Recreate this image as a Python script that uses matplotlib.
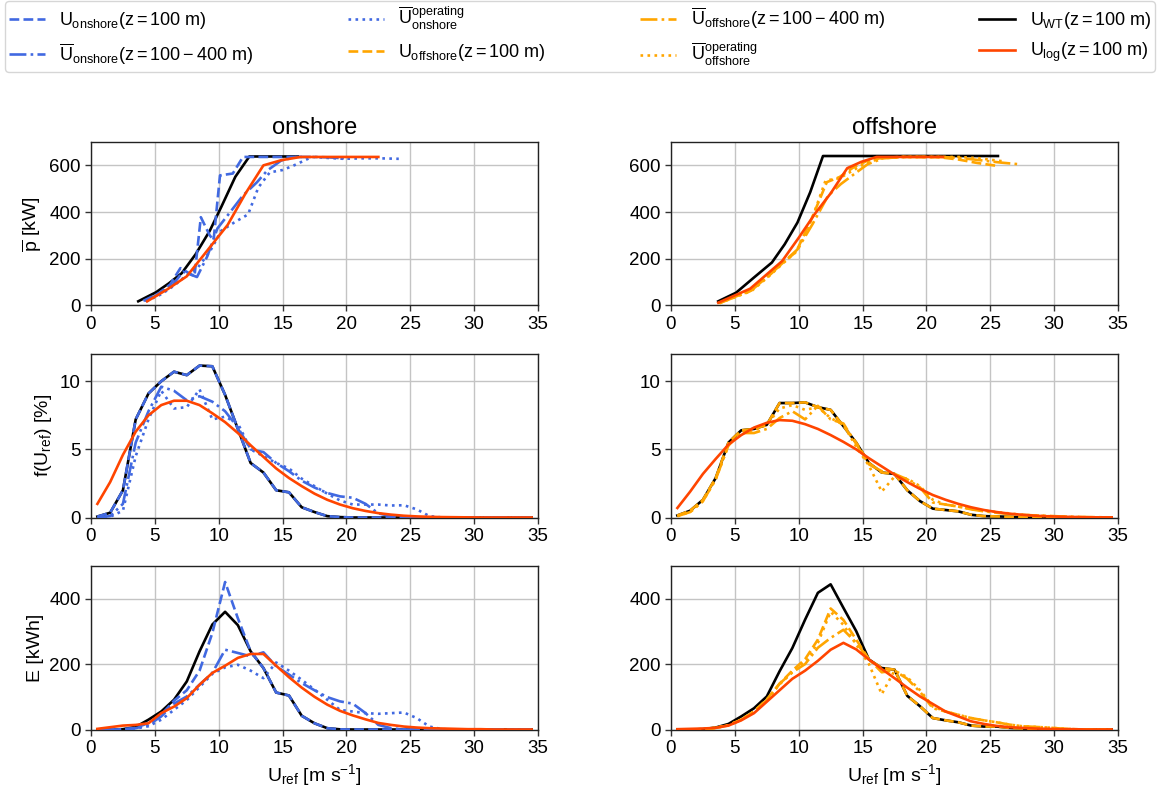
import matplotlib
matplotlib.use("Agg")
import matplotlib.pyplot as plt
from matplotlib.lines import Line2D

plt.rcParams['font.family'] = ['Liberation Sans', 'DejaVu Sans']
plt.rcParams['mathtext.fontset'] = 'custom'
plt.rcParams['mathtext.rm'] = 'Liberation Sans'
plt.rcParams['mathtext.it'] = 'Liberation Sans'
plt.rcParams['mathtext.bf'] = 'Liberation Sans:bold'
plt.rcParams['mathtext.sf'] = 'Liberation Sans'

# ---------------- data ----------------
u_bins = [0.5, 1.5, 2.5, 3.5, 4.5, 5.5, 6.5, 7.5, 8.5, 9.5, 10.5, 11.5, 12.5, 13.5,
          14.5, 15.5, 16.5, 17.5, 18.5, 19.5, 20.5, 21.5, 22.5, 23.5, 24.5, 25.5,
          26.5, 27.5, 28.5, 29.5, 30.5, 31.5, 32.5, 33.5, 34.5]

# power curves (top row) -- onshore
pw_on_wt_u = [3.7, 5.1, 6.1, 7.1, 8.2, 9.3, 10.2, 11.3, 12.4, 13.5, 14.6, 15.4, 16.2]
pw_on_wt = [18, 57, 95, 138, 220, 320, 422, 551, 638, 638, 638, 638, 638]
pw_on_100_u = [4.1, 5.3, 6.2, 7.0, 8.1, 8.6, 9.3, 9.6, 10.1, 11.1, 11.9, 13.0, 14.2, 15.4, 16.5]
pw_on_100 = [20, 52, 90, 160, 125, 378, 300, 280, 557, 565, 636, 636, 636, 636, 636]
pw_on_avg_u = [4.2, 5.4, 6.4, 7.2, 8.3, 9.1, 9.9, 10.9, 11.9, 13.0, 13.8, 14.9, 16.1, 17.5, 18.7, 19.8]
pw_on_avg = [20, 50, 88, 145, 122, 210, 330, 400, 471, 528, 578, 621, 636, 636, 634, 630]
pw_on_op_u = [4.3, 5.5, 6.5, 7.5, 8.4, 9.3, 10.2, 11.2, 12.3, 13.1, 14.0, 15.0, 15.9, 17.3,
              18.5, 19.8, 21.2, 22.7, 24.1]
pw_on_op = [18, 48, 85, 130, 165, 230, 320, 355, 390, 505, 570, 580, 600, 636, 632, 628, 630, 630, 628]
pw_on_log_u = [4.4, 6.0, 7.5, 9.1, 10.7, 12.1, 13.5, 14.9, 16.4, 18.0, 19.5, 21.0, 22.5]
pw_on_log = [18, 70, 125, 235, 345, 480, 600, 622, 636, 636, 636, 636, 636]

# power curves (top row) -- offshore
pw_off_wt_u = [3.7, 5.1, 6.5, 7.9, 8.9, 9.9, 10.9, 11.9, 13.5, 15.5, 17.5, 19.5, 21.5, 23.5, 25.6]
pw_off_wt = [18, 55, 120, 184, 262, 355, 485, 640, 640, 640, 640, 640, 640, 640, 640]
pw_off_100_u = [3.7, 4.9, 6.2, 7.5, 8.7, 9.8, 11.0, 12.2, 13.2, 14.3, 15.3, 16.5, 18.0, 19.5,
                21.0, 22.5, 24.0, 25.5]
pw_off_100 = [10, 35, 62, 120, 180, 230, 370, 528, 550, 592, 618, 632, 636, 636, 635, 625, 610, 598]
pw_off_avg_u = [3.8, 5.0, 6.3, 7.6, 8.8, 9.9, 11.1, 12.3, 13.3, 14.4, 15.4, 16.6, 18.1, 19.6,
                21.1, 22.6, 24.2, 25.8, 27.4]
pw_off_avg = [10, 36, 65, 125, 185, 240, 350, 470, 520, 565, 605, 630, 636, 636, 636, 632, 622, 612, 604]
pw_off_op_u = [3.8, 5.0, 6.3, 7.6, 8.8, 9.9, 11.1, 12.1, 13.2, 14.3, 15.3, 16.5, 18.0, 19.5,
               21.0, 22.6, 24.2, 25.9]
pw_off_op = [10, 36, 62, 122, 182, 235, 380, 535, 545, 580, 612, 630, 636, 636, 636, 636, 630, 618]
pw_off_log_u = [3.7, 6.2, 8.7, 10.0, 11.3, 12.5, 13.8, 14.9, 16.1, 17.4, 18.7, 20.0, 21.3]
pw_off_log = [12, 72, 190, 290, 395, 480, 588, 615, 636, 636, 636, 636, 636]

# frequency distributions (middle row), percent per bin
f_on_100 = [0.07, 0.35, 2.0, 7.2, 9.1, 10.0, 10.7, 10.45, 11.15, 11.1, 9.0, 6.5, 4.0, 3.3, 2.0,
            1.85, 0.75, 0.4, 0.1, 0.03, 0, 0, 0, 0, 0, 0, 0, 0, 0, 0, 0, 0, 0, 0, 0]
f_on_wt = [0.07, 0.35, 2.0, 7.2, 9.1, 10.0, 10.7, 10.45, 11.15, 11.1, 9.0, 6.5, 4.0, 3.3, 2.0,
           1.85, 0.75, 0.4, 0.1, 0.03, 0, 0, 0, 0, 0, 0, 0, 0, 0, 0, 0, 0, 0, 0, 0]
f_on_avg = [0.0, 0.1, 1.0, 5.5, 7.8, 9.6, 9.3, 8.6, 8.9, 8.5, 7.8, 6.6, 5.0, 4.8, 4.0, 3.4, 2.7,
            2.2, 1.8, 1.55, 1.45, 1.0, 0.3, 0.1, 0.05, 0, 0, 0, 0, 0, 0, 0, 0, 0, 0]
f_on_op = [0.0, 0.05, 0.5, 4.5, 7.2, 9.3, 8.0, 8.1, 9.4, 7.2, 7.4, 6.9, 5.0, 4.5, 4.0, 3.6, 2.85,
           2.3, 1.75, 1.25, 0.95, 0.95, 0.95, 0.88, 0.9, 0.6, 0.1, 0, 0, 0, 0, 0, 0, 0, 0]
f_on_log = [1.0, 2.6, 4.6, 6.3, 7.5, 8.25, 8.57, 8.57, 8.25, 7.65, 7.0, 6.2, 5.3, 4.45, 3.6, 2.9,
            2.3, 1.75, 1.3, 0.95, 0.68, 0.48, 0.32, 0.21, 0.13, 0.08, 0.05, 0.03, 0.02, 0.01,
            0, 0, 0, 0, 0]

f_off_100 = [0.15, 0.5, 1.3, 2.9, 5.5, 6.4, 6.5, 6.8, 8.4, 8.4, 8.45, 8.1, 7.9, 6.7, 5.5, 4.0,
             3.3, 3.2, 2.0, 1.2, 0.65, 0.55, 0.45, 0.2, 0.1, 0.08, 0.05, 0.02, 0, 0, 0, 0, 0, 0, 0]
f_off_wt = [0.15, 0.5, 1.3, 2.9, 5.5, 6.4, 6.5, 6.8, 8.4, 8.4, 8.45, 8.1, 7.9, 6.7, 5.5, 4.0,
            3.3, 3.2, 2.0, 1.2, 0.65, 0.55, 0.45, 0.2, 0.1, 0.08, 0.05, 0.02, 0, 0, 0, 0, 0, 0, 0]
f_off_avg = [0.1, 0.4, 1.2, 2.8, 5.3, 6.2, 6.2, 6.5, 7.3, 7.8, 7.2, 8.2, 7.2, 6.9, 5.4, 3.9, 3.4,
             3.2, 2.8, 2.2, 1.1, 0.95, 0.8, 0.6, 0.45, 0.35, 0.25, 0.2, 0.15, 0.12, 0.08, 0.05,
             0.03, 0.02, 0.01]
f_off_op = [0.1, 0.4, 1.2, 2.8, 5.3, 6.3, 6.4, 6.8, 8.0, 8.25, 7.9, 8.1, 7.3, 6.8, 5.2, 3.8, 1.9,
            3.0, 2.85, 2.3, 1.3, 0.95, 0.8, 0.6, 0.5, 0.4, 0.3, 0.2, 0.15, 0.1, 0.06, 0.03, 0.02,
            0.01, 0]
f_off_log = [0.7, 1.9, 3.2, 4.3, 5.35, 6.05, 6.6, 6.95, 7.15, 7.1, 6.85, 6.5, 6.05, 5.55, 5.0,
             4.35, 3.75, 3.15, 2.6, 2.1, 1.65, 1.3, 1.0, 0.75, 0.55, 0.4, 0.28, 0.2, 0.13, 0.09,
             0.06, 0.04, 0.02, 0.01, 0.01]

# energy per bin (bottom row), kWh
e_on_wt = [0, 0, 1, 8, 30, 55, 91, 147, 239, 321, 360, 319, 239, 188, 113, 104, 42, 19, 4, 0.5,
           0, 0, 0, 0, 0, 0, 0, 0, 0, 0, 0, 0, 0, 0, 0]
e_on_100 = [0, 0, 0.5, 5, 20, 45, 88, 120, 180, 295, 451, 340, 239, 188, 113, 104, 42, 19, 4, 0.5,
            0, 0, 0, 0, 0, 0, 0, 0, 0, 0, 0, 0, 0, 0, 0]
e_on_avg = [0, 0, 0.5, 4, 14, 40, 79, 101, 137, 173, 244, 234, 224, 236, 193, 168, 142, 120, 99,
            86, 79, 50, 14, 4, 0, 0, 0, 0, 0, 0, 0, 0, 0, 0, 0]
e_on_op = [0, 0, 0.2, 3, 10, 30, 60, 90, 130, 170, 190, 198, 180, 157, 205, 180, 152, 122, 91, 60,
           55, 50, 48, 50, 52, 35, 9, 1, 0, 0, 0, 0, 0, 0, 0]
e_on_log = [2, 7, 12, 14, 19, 50, 70, 96, 137, 173, 195, 219, 231, 231, 195, 160, 128, 100, 76,
            57, 43, 31, 20, 14, 9, 6, 4, 3, 2, 1, 1, 0, 0, 0, 0]

e_off_wt = [0, 0, 1, 6, 17, 40, 65, 101, 178, 249, 336, 418, 444, 372, 301, 214, 188, 183, 103, 71,
            35, 28, 22, 12, 9, 9, 5, 3, 1, 0, 0, 0, 0, 0, 0]
e_off_100 = [0, 0, 1, 5, 13, 30, 55, 92, 140, 180, 215, 275, 370, 335, 275, 214, 188, 183, 103,
             71, 35, 28, 22, 12, 9, 9, 5, 3, 1, 0, 0, 0, 0, 0, 0]
e_off_avg = [0, 0, 1, 5, 13, 30, 55, 90, 140, 175, 200, 250, 280, 305, 265, 215, 175, 180, 155,
             115, 65, 55, 45, 35, 28, 22, 15, 10, 8, 6, 3, 1, 0, 0, 0]
e_off_op = [0, 0, 1, 5, 13, 30, 55, 90, 138, 175, 205, 265, 360, 320, 260, 200, 108, 180, 160,
            120, 70, 55, 45, 35, 28, 22, 15, 10, 8, 6, 3, 1, 0, 0, 0]
e_off_log = [1, 2, 3, 5, 12, 28, 50, 85, 120, 155, 180, 210, 244, 265, 245, 214, 185, 157, 128,
             101, 78, 55, 40, 25, 17, 11, 7, 5, 3, 2, 1, 1, 0, 0, 0]

labels = [r'$U_{\mathrm{onshore}}(z=100\ \mathrm{m})$',
          r'$\overline{U}_{\mathrm{onshore}}(z=100-400\ \mathrm{m})$',
          r'$\overline{U}_{\mathrm{onshore}}^{\mathrm{operating}}$',
          r'$U_{\mathrm{offshore}}(z=100\ \mathrm{m})$',
          r'$\overline{U}_{\mathrm{offshore}}(z=100-400\ \mathrm{m})$',
          r'$\overline{U}_{\mathrm{offshore}}^{\mathrm{operating}}$',
          r'$U_{\mathrm{WT}}(z=100\ \mathrm{m})$',
          r'$U_{\mathrm{log}}(z=100\ \mathrm{m})$']

BLUE = '#4169e1'
ORANGE = '#ffa500'
RED = '#ff4500'
LW = 1.9

fig = plt.figure(figsize=(11.59, 7.89), dpi=100)

W, H = 1159.0, 789.0
lefts = [91, 671]
tops = [142, 354, 566]
aw, ah = 447, 163.5
axes = [[fig.add_axes([l / W, 1 - (t + ah) / H, aw / W, ah / H]) for l in lefts] for t in tops]


def style(ax, ylim, yticks):
    ax.set_xlim(0, 35)
    ax.set_ylim(*ylim)
    ax.set_xticks([0, 5, 10, 15, 20, 25, 30, 35])
    ax.set_yticks(yticks)
    ax.grid(True, color='#c4c4c4', lw=1.0)
    ax.set_axisbelow(True)
    ax.tick_params(labelsize=13.5, length=4, width=1, direction='out', color='#333333')
    for s in ax.spines.values():
        s.set_color('#222222')
        s.set_linewidth(1.0)


# top row
for col, (wt, c100, cavg, cop, clog, color, title) in enumerate([
        ((pw_on_wt_u, pw_on_wt), (pw_on_100_u, pw_on_100), (pw_on_avg_u, pw_on_avg),
         (pw_on_op_u, pw_on_op), (pw_on_log_u, pw_on_log), BLUE, 'onshore'),
        ((pw_off_wt_u, pw_off_wt), (pw_off_100_u, pw_off_100), (pw_off_avg_u, pw_off_avg),
         (pw_off_op_u, pw_off_op), (pw_off_log_u, pw_off_log), ORANGE, 'offshore')]):
    ax = axes[0][col]
    ax.plot(*wt, color='black', lw=LW, zorder=2)
    ax.plot(*c100, color=color, lw=LW, ls='--', zorder=3)
    ax.plot(*cavg, color=color, lw=LW, ls='-.', zorder=3)
    ax.plot(*cop, color=color, lw=LW, ls=':', zorder=3)
    ax.plot(*clog, color=RED, lw=LW, zorder=4)
    style(ax, (0, 700), [0, 200, 400, 600])
    ax.set_title(title, fontsize=17, pad=6)

# middle and bottom rows
rows = [
    ((f_on_wt, f_on_100, f_on_avg, f_on_op, f_on_log),
     (f_off_wt, f_off_100, f_off_avg, f_off_op, f_off_log), (0, 12), [0, 5, 10]),
    ((e_on_wt, e_on_100, e_on_avg, e_on_op, e_on_log),
     (e_off_wt, e_off_100, e_off_avg, e_off_op, e_off_log), (0, 500), [0, 200, 400]),
]
for r, (on, off, ylim, yt) in enumerate(rows, start=1):
    for col, (series, color) in enumerate([(on, BLUE), (off, ORANGE)]):
        ax = axes[r][col]
        wt, c100, cavg, cop, clog = series
        ax.plot(u_bins, wt, color='black', lw=LW, zorder=2)
        ax.plot(u_bins, c100, color=color, lw=LW, ls='--', zorder=3)
        ax.plot(u_bins, cavg, color=color, lw=LW, ls='-.', zorder=3)
        ax.plot(u_bins, cop, color=color, lw=LW, ls=':', zorder=3)
        ax.plot(u_bins, clog, color=RED, lw=LW, zorder=4)
        style(ax, ylim, yt)

axes[0][0].set_ylabel(r'$\overline{p}$ [kW]', fontsize=14)
axes[1][0].set_ylabel(r'f($U_{\mathrm{ref}}$) [%]', fontsize=14)
axes[2][0].set_ylabel('E [kWh]', fontsize=14)
for col in range(2):
    axes[2][col].set_xlabel(r'$U_{\mathrm{ref}}\ [\mathrm{m\ s}^{-1}]$', fontsize=14)

handles = [Line2D([], [], color=BLUE, lw=LW, ls='--'),
           Line2D([], [], color=BLUE, lw=LW, ls='-.'),
           Line2D([], [], color=BLUE, lw=LW, ls=':'),
           Line2D([], [], color=ORANGE, lw=LW, ls='--'),
           Line2D([], [], color=ORANGE, lw=LW, ls='-.'),
           Line2D([], [], color=ORANGE, lw=LW, ls=':'),
           Line2D([], [], color='black', lw=LW),
           Line2D([], [], color=RED, lw=LW)]
fig.legend(handles, labels, loc='lower left', ncol=4, mode='expand',
           bbox_to_anchor=(5 / W, 1 - 72 / H, 1150 / W, 67 / H),
           fontsize=13, frameon=True, edgecolor='#cccccc', fancybox=True,
           borderaxespad=0.0, handlelength=2.0, labelspacing=0.55, borderpad=0.2)

fig.savefig('out.png', dpi=100)
